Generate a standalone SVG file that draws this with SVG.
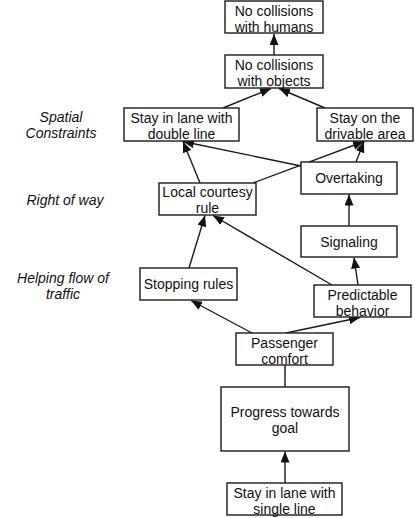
<svg xmlns="http://www.w3.org/2000/svg" width="415" height="518" viewBox="0 0 415 518">
<style>
.box{fill:#fff;stroke:#1a1a1a;stroke-width:1.4}
.t{font-family:"Liberation Sans",Arial,sans-serif;font-size:14px;fill:#111;text-anchor:middle}
.lab{font-family:"Liberation Sans",Arial,sans-serif;font-size:14px;font-style:italic;fill:#111;text-anchor:middle}
.c{stroke:#1a1a1a;stroke-width:1.4;fill:none}
</style>
<defs>
<marker id="ah" markerUnits="userSpaceOnUse" markerWidth="12" markerHeight="10" refX="11" refY="4.5" orient="auto">
<path d="M0,0 L11,4.5 L0,9 Z" fill="#111"/>
</marker>
</defs>
<rect width="415" height="518" fill="#fff"/>
<g id="connectors">
<line class="c" x1="274" y1="55" x2="274" y2="34" marker-end="url(#ah)"/>
<line class="c" x1="223" y1="108" x2="271" y2="88.5" marker-end="url(#ah)"/>
<line class="c" x1="325" y1="108" x2="279" y2="88.5" marker-end="url(#ah)"/>
<line class="c" x1="200" y1="183" x2="183" y2="141.5" marker-end="url(#ah)"/>
<line class="c" x1="301" y1="166" x2="183" y2="141.5" marker-end="url(#ah)"/>
<line class="c" x1="253" y1="183" x2="364" y2="141.5" marker-end="url(#ah)"/>
<line class="c" x1="356" y1="162" x2="364" y2="141.5" marker-end="url(#ah)"/>
<line class="c" x1="349" y1="226" x2="349" y2="194.5" marker-end="url(#ah)"/>
<line class="c" x1="358" y1="285" x2="354" y2="257.5" marker-end="url(#ah)"/>
<line class="c" x1="332" y1="285" x2="213" y2="215.5" marker-end="url(#ah)"/>
<line class="c" x1="189" y1="268" x2="205" y2="215.5" marker-end="url(#ah)"/>
<line class="c" x1="252" y1="333" x2="191" y2="300.5" marker-end="url(#ah)"/>
<line class="c" x1="286" y1="333" x2="360" y2="317.5" marker-end="url(#ah)"/>
<line class="c" x1="285" y1="365" x2="285" y2="387"/>
<line class="c" x1="285" y1="483" x2="285" y2="451.5" marker-end="url(#ah)"/>
</g>
<g id="humans"><rect class="box" x="225" y="1" width="98" height="32"/><text class="t" x="274" y="15.5">No collisions</text><text class="t" x="274" y="31.5">with humans</text></g>
<g id="objects"><rect class="box" x="225" y="55" width="98" height="33"/><text class="t" x="274" y="70">No collisions</text><text class="t" x="274" y="86">with objects</text></g>
<g id="double"><rect class="box" x="124" y="108" width="115" height="33"/><text class="t" x="181.5" y="122.5">Stay in lane with</text><text class="t" x="181.5" y="138.5">double line</text></g>
<g id="drivable"><rect class="box" x="317" y="108" width="96" height="33"/><text class="t" x="365" y="122.5">Stay on the</text><text class="t" x="365" y="138.5">drivable area</text></g>
<g id="overtaking"><rect class="box" x="301" y="162" width="96" height="32"/><text class="t" x="349" y="183">Overtaking</text></g>
<g id="courtesy"><rect class="box" x="159" y="183" width="97" height="32"/><text class="t" x="207.5" y="197">Local courtesy</text><text class="t" x="207.5" y="213">rule</text></g>
<g id="signaling"><rect class="box" x="301" y="226" width="96" height="31"/><text class="t" x="349" y="246.5">Signaling</text></g>
<g id="stopping"><rect class="box" x="140" y="268" width="97" height="32"/><text class="t" x="188.5" y="289">Stopping rules</text></g>
<g id="predictable"><rect class="box" x="314" y="285" width="97" height="32"/><text class="t" x="362.5" y="299.5">Predictable</text><text class="t" x="362.5" y="315.5">behavior</text></g>
<g id="passenger"><rect class="box" x="236" y="333" width="97" height="32"/><text class="t" x="284.5" y="347.5">Passenger</text><text class="t" x="284.5" y="363.5">comfort</text></g>
<g id="progress"><rect class="box" x="221" y="387" width="128" height="64"/><text class="t" x="285" y="417">Progress towards</text><text class="t" x="285" y="433">goal</text></g>
<g id="single"><rect class="box" x="227" y="483" width="115" height="32"/><text class="t" x="284.5" y="497.5">Stay in lane with</text><text class="t" x="284.5" y="513.5">single line</text></g>
<g id="labels">
<text class="lab" x="61" y="122">Spatial</text>
<text class="lab" x="61" y="138">Constraints</text>
<text class="lab" x="65" y="205">Right of way</text>
<text class="lab" x="63" y="283">Helping flow of</text>
<text class="lab" x="63" y="299">traffic</text>
</g>
</svg>
